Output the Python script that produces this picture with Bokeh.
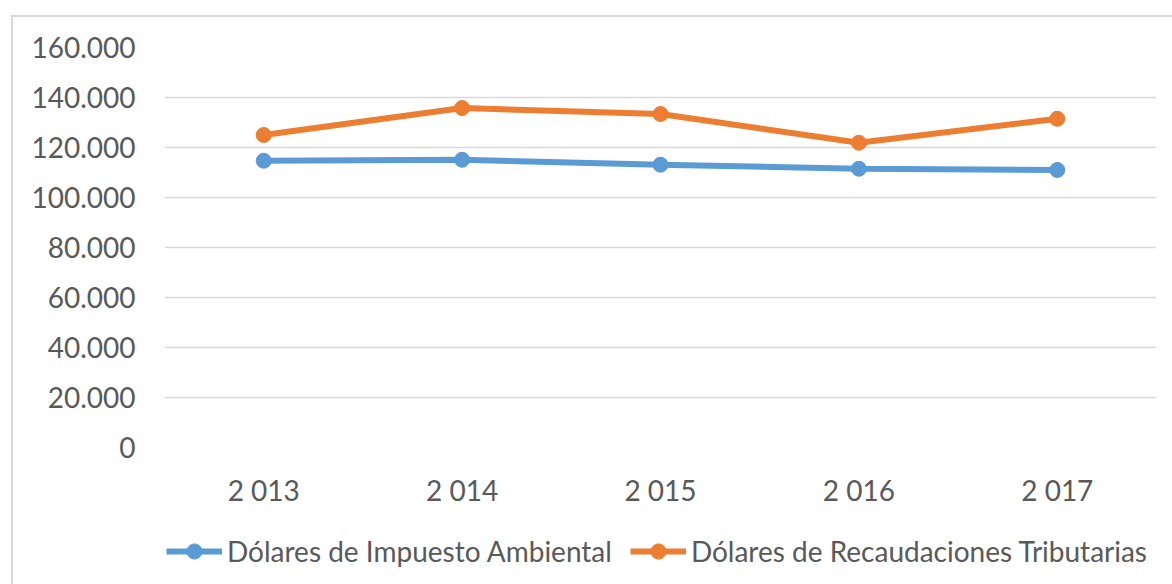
from bokeh.plotting import figure
from bokeh.models import FactorRange, Range1d, FixedTicker, Legend, LegendItem
from bokeh.layouts import column
from bokeh.embed import file_html
from bokeh.resources import INLINE

years = ["2 013", "2 014", "2 015", "2 016", "2 017"]
impuesto_ambiental = [114700, 115100, 113100, 111500, 111000]
recaudaciones = [125000, 135800, 133400, 121900, 131500]
y_ticks = [0, 20000, 40000, 60000, 80000, 100000, 120000, 140000, 160000]
y_tick_labels = ["0", "20.000", "40.000", "60.000", "80.000", "100.000",
                 "120.000", "140.000", "160.000"]
series_names = ["Dólares de Impuesto Ambiental", "Dólares de Recaudaciones Tributarias"]

FONT = "Lato"
TXT = "#595959"
BLUE = "#5B9BD5"
ORANGE = "#ED7D31"
GRID = "#D9D9D9"

# ---- main chart ----
p = figure(x_range=FactorRange(*years), y_range=Range1d(0, 160000),
           width=1159, height=505, output_backend="svg", toolbar_location=None,
           min_border_left=151, min_border_right=16, min_border_top=30,
           min_border_bottom=75)
p.outline_line_color = None
p.background_fill_color = "white"
p.border_fill_color = "white"

p.xgrid.grid_line_color = None
p.ygrid.grid_line_color = GRID
p.ygrid.grid_line_width = 1.5

p.yaxis.ticker = FixedTicker(ticks=y_ticks)
p.yaxis.major_label_overrides = {t: l for t, l in zip(y_ticks, y_tick_labels)}
for ax in (p.xaxis[0], p.yaxis[0]):
    ax.axis_line_color = None
    ax.major_tick_line_color = None
    ax.minor_tick_line_color = None
    ax.major_tick_in = 0
    ax.major_tick_out = 0
    ax.major_label_text_font = FONT
    ax.major_label_text_font_size = "28px"
    ax.major_label_text_color = TXT
p.yaxis.major_label_standoff = 29
p.xaxis.major_label_standoff = 25

for vals, col in ((impuesto_ambiental, BLUE), (recaudaciones, ORANGE)):
    p.line(years, vals, line_color=col, line_width=6)
    p.scatter(years, vals, size=15, fill_color=col, line_color=col)

# ---- legend strip ----
lf = figure(x_range=FactorRange(*years), y_range=Range1d(0, 1),
            width=1159, height=62, output_backend="svg", toolbar_location=None,
            x_axis_location=None, y_axis_location=None,
            min_border=0, min_border_left=0, min_border_right=0,
            min_border_top=0, min_border_bottom=0)
lf.outline_line_color = None
lf.xgrid.visible = False
lf.ygrid.visible = False
lf.border_fill_color = "white"
lf.background_fill_color = "white"

items = []
for vals, col, name in ((impuesto_ambiental, BLUE, series_names[0]),
                        (recaudaciones, ORANGE, series_names[1])):
    r1 = lf.line(years, vals, line_color=col, line_width=6, visible=False)
    r2 = lf.scatter(years, vals, size=15, fill_color=col, line_color=col, visible=False)
    items.append(LegendItem(label=name, renderers=[r1, r2]))

legend = Legend(items=items, orientation="horizontal", location=(2, 14))
legend.label_text_font = FONT
legend.label_text_font_size = "28px"
legend.label_text_color = TXT
legend.glyph_width = 56
legend.glyph_height = 38
legend.label_standoff = 5
legend.spacing = 18
legend.border_line_color = None
legend.background_fill_alpha = 0
legend.inactive_fill_alpha = 0
legend.click_policy = "none"
legend.margin = 0
legend.padding = 0
lf.add_layout(legend, "center")

layout = column(p, lf, spacing=0,
                styles={"margin-left": "11px", "margin-top": "15px",
                        "border-left": "2px solid #D9D9D9",
                        "border-top": "2px solid #D9D9D9"})

open("out.html", "w").write(file_html(layout, INLINE))
